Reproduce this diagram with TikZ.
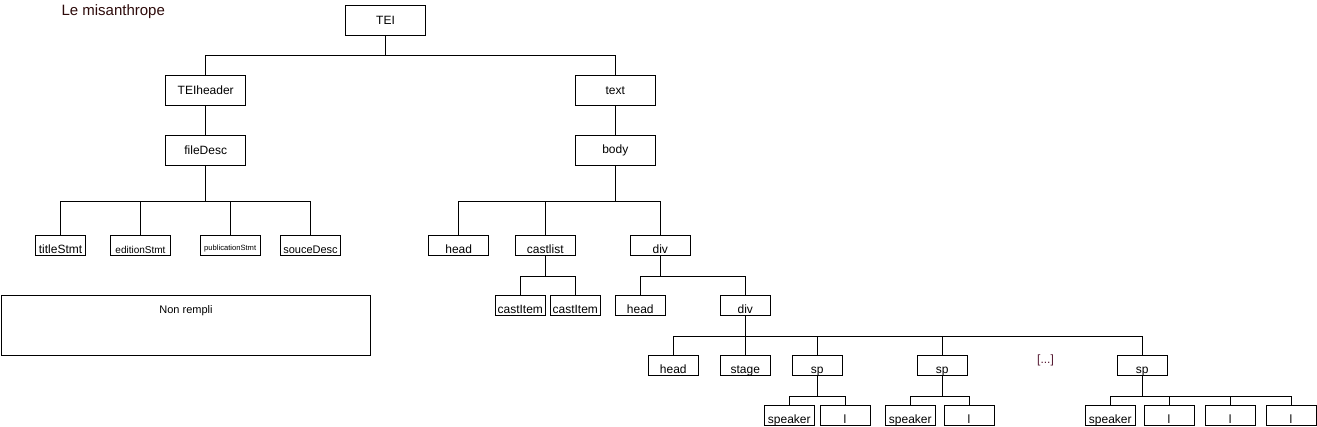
\documentclass[tikz,border=0pt]{standalone}
\usepackage{fontspec}
\setmainfont{Liberation Sans}
\usetikzlibrary{positioning}
\definecolor{titlered}{RGB}{45,10,10}
\definecolor{dotsred}{RGB}{85,25,50}

\begin{document}
\begin{tikzpicture}[
         x=1pt, y=-1pt, line width=1pt,
         element/.style={draw, inner sep=0pt, minimum width=80pt, minimum height=30pt, font=\fontsize{12}{14}\selectfont},
         leaf/.style={draw, inner sep=0pt, minimum width=50pt, text height=18pt, text depth=2pt, font=\fontsize{12}{14}\selectfont},
         wideleaf/.style={leaf, minimum width=60pt},
         title/.style={font=\fontsize{15}{18}\selectfont, text=titlered, anchor=base west, inner sep=0pt}
      ]
         \useasboundingbox (0,0) rectangle (1317,426);

         % Title
         \node[title] (title) at (61,15) {Le misanthrope};

         % Nodes for the header branch
         \node[element] (TEI) at (385.5,20.3) {TEI};
         \node[element] (TEIheader) at (205.7,90.3) {TEIheader};
         \node[element] (fileDesc) at (205.7,150.3) {fileDesc};
         \node[leaf] (titleStmt) at (60.5,245.5) {titleStmt};
         \node[wideleaf, font=\fontsize{10}{12}\selectfont] (editionStmt) at (140.5,245.5) {editionStmt};
         \node[wideleaf, font=\fontsize{7.6}{9}\selectfont, text height=15pt, text depth=5pt] (publicationStmt) at (230.2,245.5) {publicationStmt};
         \node[wideleaf, font=\fontsize{11}{13}\selectfont] (souceDesc) at (310.5,245.5) {souceDesc};

         % Unfilled box
         \node[draw, inner sep=0pt, minimum width=369pt, minimum height=60pt] (nonrempli) at (185.7,325.3) {};
         \node[font=\fontsize{11}{13}\selectfont, anchor=base, inner sep=0pt] (nonremplitext) at (186,313.3) {Non rempli};

         % Nodes for the text branch
         \node[element] (text) at (615.3,90.3) {text};
         \node[element] (body) at (615.3,150.3) {body};
         \node[wideleaf] (head) at (458.7,245.5) {head};
         \node[wideleaf] (castlist) at (545.3,245.5) {castlist};
         \node[wideleaf] (div) at (660.3,245.5) {div};
         \node[leaf] (castItemA) at (520.3,305.5) {castItem};
         \node[leaf] (castItemB) at (575.3,305.5) {castItem};
         \node[leaf] (headB) at (640.3,305.5) {head};
         \node[leaf] (divB) at (745.3,305.5) {div};
         \node[leaf] (headC) at (673.3,365.5) {head};
         \node[leaf] (stage) at (745.3,365.5) {stage};
         \node[leaf] (spA) at (817.3,365.5) {sp};
         \node[leaf] (spB) at (942.3,365.5) {sp};
         \node[font=\fontsize{12}{14}\selectfont, text=dotsred] (dots) at (1045.5,360) {[...]};
         \node[leaf] (spC) at (1142.2,365.5) {sp};
         \node[leaf] (speakerA) at (789.3,415.5) {speaker};
         \node[leaf] (lA) at (845,415.5) {l};
         \node[leaf] (speakerB) at (910.3,415.5) {speaker};
         \node[leaf] (lB) at (969,415.5) {l};
         \node[leaf] (speakerC) at (1110.3,415.5) {speaker};
         \node[leaf] (lC) at (1169,415.5) {l};
         \node[leaf] (lD) at (1230.3,415.5) {l};
         \node[leaf] (lE) at (1291,415.5) {l};

         % Connectors
         \foreach \c in {TEIheader,text}
            \draw (TEI.south) -- ++(0,20) -| (\c.north);
         \draw (TEIheader) -- (fileDesc);
         \draw (text) -- (body);
         \foreach \c in {titleStmt,editionStmt,publicationStmt,souceDesc}
            \draw (fileDesc.south) -- ++(0,35.4) -| (\c.north);
         \foreach \c in {head,castlist,div}
            \draw (body.south) -- ++(0,35.4) -| (\c.north);
         \foreach \c in {castItemA,castItemB}
            \draw (castlist.south) -- ++(0,20) -| (\c.north);
         \foreach \c in {headB,divB}
            \draw (div.south) -- ++(0,20) -| (\c.north);
         \foreach \c in {headC,stage,spA,spB,spC}
            \draw (divB.south) -- ++(0,20) -| (\c.north);
         \foreach \c in {speakerA,lA}
            \draw (spA.south) -- ++(0,20) -| (\c.north);
         \foreach \c in {speakerB,lB}
            \draw (spB.south) -- ++(0,20) -| (\c.north);
         \foreach \c in {speakerC,lC,lD,lE}
            \draw (spC.south) -- ++(0,20) -| (\c.north);
      \end{tikzpicture}
\end{document}
